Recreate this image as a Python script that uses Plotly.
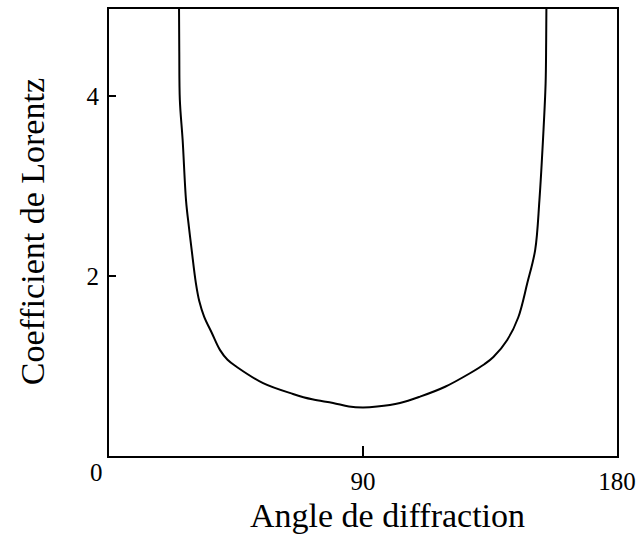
import plotly.graph_objects as go

# Lorentz factor: diffraction angle (deg) and coefficient
angle = [24.8, 24.9, 25.1, 26.1, 27.3, 28.3, 29.3, 30.8, 32.0, 33.7, 36.4, 39.3,
         42.0, 45.3, 54.6, 65.2, 72.0, 79.4, 85.0, 90.0, 95.0, 103.1, 110.2,
         119.1, 127.9, 133.0, 136.2, 141.1, 145.0, 148.2, 151.0, 152.5, 153.9,
         154.7, 154.9, 155.0]
coeff = [5.05, 4.50, 3.96, 3.51, 2.84, 2.55, 2.29, 1.92, 1.72, 1.55, 1.37, 1.18,
         1.07, 0.99, 0.81, 0.69, 0.63, 0.59, 0.55, 0.54, 0.55, 0.59, 0.66,
         0.77, 0.92, 1.02, 1.10, 1.29, 1.54, 1.92, 2.29, 2.84, 3.59,
         4.14, 4.60, 5.05]

x_ticks = [90, 180]
y_ticks = [2, 4]

serif = "Liberation Serif"

fig = go.Figure()
fig.add_trace(go.Scatter(
    x=angle, y=coeff, mode="lines",
    line=dict(color="black", width=2, shape="spline", smoothing=1.0),
    hoverinfo="skip", showlegend=False,
))

fig.update_layout(
    width=637, height=536,
    margin=dict(l=109, r=20, t=9, b=80),
    paper_bgcolor="white", plot_bgcolor="white",
    font=dict(family=serif, color="black", size=25),
    xaxis=dict(
        range=[0, 180], tickvals=x_ticks, ticktext=[str(v) for v in x_ticks],
        ticks="inside", ticklen=10, tickwidth=2, tickcolor="black",
        showline=True, linecolor="black", linewidth=2, mirror=True,
        showgrid=False, zeroline=False, ticklabelstandoff=2, automargin=False,
    ),
    yaxis=dict(
        range=[0, 4.97], tickvals=y_ticks, ticktext=[str(v) for v in y_ticks],
        ticks="inside", ticklen=7, tickwidth=2, tickcolor="black",
        showline=True, linecolor="black", linewidth=2, mirror=True,
        showgrid=False, zeroline=False, ticklabelstandoff=3, automargin=False,
    ),
    annotations=[
        dict(text="0", xref="paper", yref="paper", x=-0.0246, y=-0.036,
             xanchor="center", yanchor="middle", showarrow=False,
             font=dict(family=serif, size=25)),
        dict(text="Angle de diffraction", xref="paper", yref="paper",
             x=0.2736, y=-0.133, xanchor="left", yanchor="middle", showarrow=False,
             font=dict(family=serif, size=34)),
        dict(text="Coefficient de Lorentz", xref="paper", yref="paper",
             x=-0.1516, y=0.503, xanchor="center", yanchor="middle", textangle=-90,
             showarrow=False, font=dict(family=serif, size=34)),
    ],
)

fig.write_html("out.html")
